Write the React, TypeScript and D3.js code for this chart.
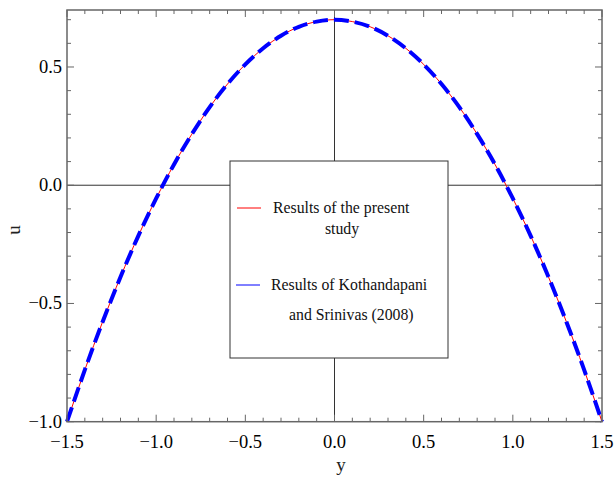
import React from "react";
import * as d3 from "d3";

const yValues = [-1.5,-1.4,-1.3,-1.2,-1.1,-1.0,-0.9,-0.8,-0.7,-0.6,-0.5,-0.4,-0.3,-0.2,-0.1,0,0.1,0.2,0.3,0.4,0.5,0.6,0.7,0.8,0.9,1.0,1.1,1.2,1.3,1.4,1.5];
const presentU = [-1.0,-0.781,-0.577,-0.388,-0.214,-0.056,0.088,0.216,0.330,0.428,0.511,0.579,0.632,0.670,0.692,0.700,0.692,0.670,0.632,0.579,0.511,0.428,0.330,0.216,0.088,-0.056,-0.214,-0.388,-0.577,-0.781,-1.0];
const kothandapaniU = [-1.0,-0.781,-0.577,-0.388,-0.214,-0.056,0.088,0.216,0.330,0.428,0.511,0.579,0.632,0.670,0.692,0.700,0.692,0.670,0.632,0.579,0.511,0.428,0.330,0.216,0.088,-0.056,-0.214,-0.388,-0.577,-0.781,-1.0];
const xTickValues = [-1.5,-1.0,-0.5,0.0,0.5,1.0,1.5];
const yTickValues = [-1.0,-0.5,0.0,0.5];
const legendLabels = [["Results of the present", "study"], ["Results of Kothandapani", "and Srinivas (2008)"]];

const W = 616, H = 478;
const L = 67, R = 602, T = 10, B = 421.7;

export default function App() {
  const x = d3.scaleLinear().domain([-1.5, 1.5]).range([L, R]);
  const y = d3.scaleLinear().domain([-1.0, 0.741]).range([B, T]);
  const fmt = (v: number) => (v < 0 ? "\u2212" : "") + Math.abs(v).toFixed(1);
  const line = d3.line<number>().x((_, i) => x(yValues[i])).y(d => y(d)).curve(d3.curveNatural);
  const xMinor = d3.range(-15, 16).map(i => i / 10);
  const yMinor = d3.range(-10, 8).map(i => i / 10);
  const font = "'Liberation Serif', 'Times New Roman', serif";
  const isMajor = (v: number) => Math.abs(v * 2 - Math.round(v * 2)) < 1e-6;
  const frame = "#666";
  return (
    <svg width={W} height={H} style={{ position: "absolute", left: 0, top: 0 }} fontFamily={font}>
      <rect width={W} height={H} fill="#fff" />
      {/* zero axes */}
      <line x1={L} x2={R} y1={y(0)} y2={y(0)} stroke="#333" strokeWidth={1} />
      <line x1={x(0)} x2={x(0)} y1={T} y2={B} stroke="#333" strokeWidth={1} />
      {/* ticks */}
      {xMinor.map((v, i) => {
        const len = isMajor(v) ? 7 : 4;
        return (
          <g key={"xt" + i}>
            <line x1={x(v)} x2={x(v)} y1={B} y2={B - len} stroke={frame} strokeWidth={1} />
            <line x1={x(v)} x2={x(v)} y1={T} y2={T + len} stroke={frame} strokeWidth={1} />
          </g>
        );
      })}
      {yMinor.map((v, i) => {
        const len = isMajor(v) ? 7 : 4;
        return (
          <g key={"yt" + i}>
            <line x1={L} x2={L + len} y1={y(v)} y2={y(v)} stroke={frame} strokeWidth={1} />
            <line x1={R} x2={R - len} y1={y(v)} y2={y(v)} stroke={frame} strokeWidth={1} />
          </g>
        );
      })}
      {/* curves */}
      <path d={line(presentU) || ""} fill="none" stroke="#ff0000" strokeWidth={1} />
      <path d={line(kothandapaniU) || ""} fill="none" stroke="#0000ff" strokeWidth={4} strokeDasharray="15,6" />
      {/* frame */}
      <rect x={L} y={T} width={R - L} height={B - T} fill="none" stroke={frame} strokeWidth={1.5} />
      {/* tick labels */}
      {xTickValues.map((v, i) => (
        <text key={"xl" + i} x={x(v)} y={448} textAnchor="middle" fontSize={18.5} fill="#000">{fmt(v)}</text>
      ))}
      {yTickValues.map((v, i) => (
        <text key={"yl" + i} x={62} y={y(v) + 6} textAnchor="end" fontSize={18.5} fill="#000">{fmt(v)}</text>
      ))}
      {/* axis labels */}
      <text x={341} y={471} textAnchor="middle" fontSize={19} fill="#222">y</text>
      <text transform={`translate(20,230) rotate(-90)`} textAnchor="middle" fontSize={19} fill="#222">u</text>
      {/* legend */}
      <rect x={230} y={161} width={218} height={197} fill="#fff" stroke="#333" strokeWidth={1} />
      <line x1={237} x2={261} y1={208} y2={208} stroke="#ff0000" strokeWidth={1} />
      <text x={273} y={213} fontSize={15.8} fill="#111">{legendLabels[0][0]}</text>
      <text x={342} y={234} fontSize={15.8} fill="#111" textAnchor="middle">{legendLabels[0][1]}</text>
      <line x1={236} x2={260} y1={285} y2={285} stroke="#0000ff" strokeWidth={1} />
      <text x={271} y={290} fontSize={15.8} fill="#111">{legendLabels[1][0]}</text>
      <text x={289} y={320} fontSize={15.8} fill="#111">{legendLabels[1][1]}</text>
    </svg>
  );
}
